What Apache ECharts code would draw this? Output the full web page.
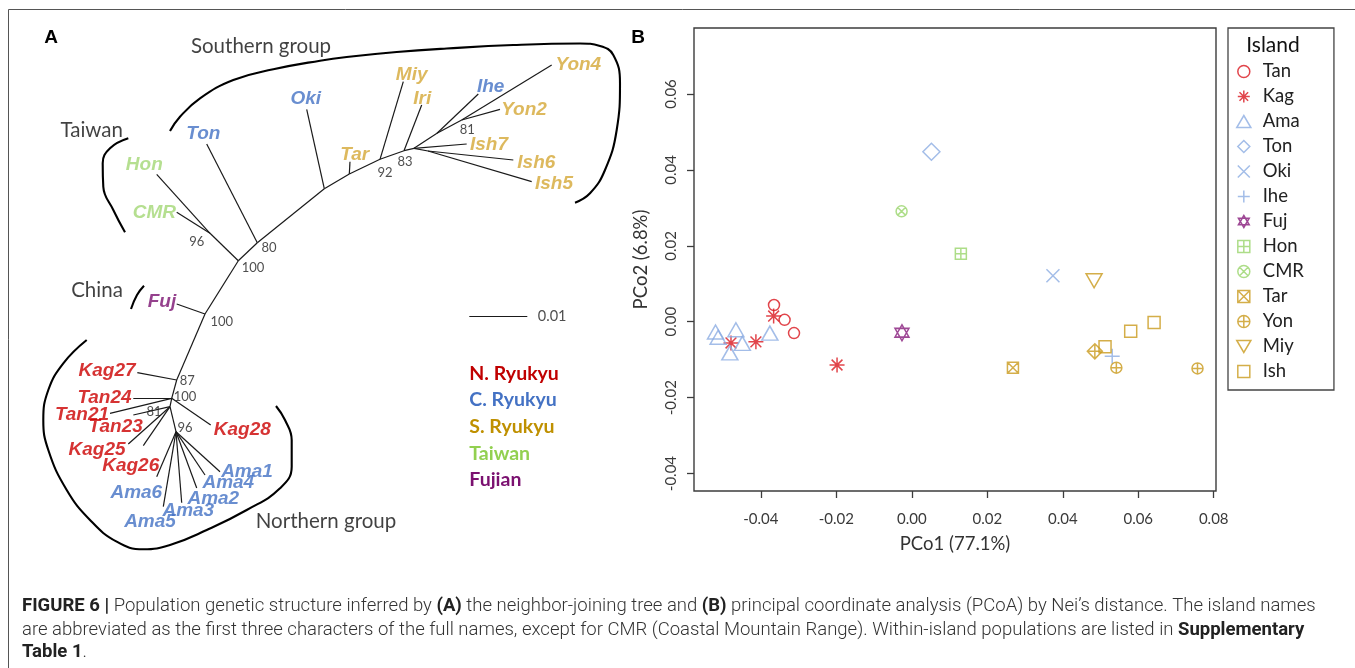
<!DOCTYPE html>
<html><head><meta charset="utf-8">
<script src="https://cdn.jsdelivr.net/npm/echarts@6/dist/echarts.min.js"></script>
<style>html,body{margin:0;padding:0;background:#fff}#c{width:1355px;height:668px}</style>
</head><body><div id="c"></div>
<script>
// ================= Panel B : PCoA values =================
const islands = ['Tan','Kag','Ama','Ton','Oki','Ihe','Fuj','Hon','CMR','Tar','Yon','Miy','Ish'];
const tanPts = [[-0.0365,0.0044],[-0.0337,0.0005],[-0.0312,-0.0030]];
const kagPts = [[-0.0366,0.0015],[-0.0413,-0.0053],[-0.0479,-0.0056],[-0.0198,-0.0114]];
const amaPts = [[-0.0520,-0.0027],[-0.0513,-0.0041],[-0.0466,-0.0021],[-0.0482,-0.0082],[-0.0449,-0.0057],[-0.0376,-0.0030]];
const tonPts = [[0.0052,0.0448]];
const okiPts = [[0.0374,0.0121]];
const ihePts = [[0.0531,-0.0091]];
const fujPts = [[-0.0026,-0.0029]];
const honPts = [[0.0130,0.0179]];
const cmrPts = [[-0.0027,0.0291]];
const tarPts = [[0.0268,-0.0121]];
const yonPts = [[0.0542,-0.0121],[0.0757,-0.0123]];
const yonDiamondPts = [[0.0485,-0.0078]];
const miyPts = [[0.0483,0.0108]];
const ishPts = [[0.0512,-0.0066],[0.0580,-0.0025],[0.0642,-0.0002]];
const xTicks = [-0.04,-0.02,0.00,0.02,0.04,0.06,0.08];
const yTicks = [-0.04,-0.02,0.00,0.02,0.04,0.06];
const xLabel = 'PCo1 (77.1%)';
const yLabel = 'PCo2 (6.8%)';

// ================= Panel A : NJ tree layout (layout units) =================
const treeNodes = {
  Hon:[156.7,174.3], CMR:[176.7,212.3], nHC:[210,233.3], nA:[238.3,260.7], n80:[257.3,242.7], Ton:[206.7,144],
  nOki:[324.3,188.7], Oki:[306.7,109.3], nTar:[349.3,174], Tar:[350,161.7], nMiy:[380,159.3], Miy:[403.3,81.7],
  nIri:[404,150.7], Iri:[421.7,105], nStar:[414,148.3], Ish7:[466.7,144], nIsh56:[428,151], Ish6:[513.3,160], Ish5:[531.7,181.7],
  nIhe:[437,133.3], Ihe:[478.3,94], nYon:[461.7,120], Yon4:[551.7,65], Yon2:[500,109.3],
  nFuj:[205,314], Fuj:[176.7,304], n87:[176.7,380], Kag27:[137.3,372.7], n100b:[171.7,398.3], Tan24:[133.3,398.3], Tan21:[110,413.3],
  n81:[170,406.7], Tan23:[133.3,415], Kag25:[128.3,444], Kag26:[143.3,445.7], Kag28:[210.7,425],
  n96:[176,431.7], Ama1:[220,471.7], Ama4:[205,475], Ama2:[196.7,488], Ama3:[181.7,502.7], Ama5:[163.3,506.7], Ama6:[156.7,476.7]
};
const treeEdges = [['Hon','nHC'],['CMR','nHC'],['nHC','nA'],['nA','n80'],['Ton','n80'],['n80','nOki'],['Oki','nOki'],
  ['nOki','nTar'],['Tar','nTar'],['nTar','nMiy'],['Miy','nMiy'],['nMiy','nIri'],['Iri','nIri'],['nIri','nStar'],
  ['nStar','Ish7'],['nStar','nIsh56'],['nIsh56','Ish6'],['nIsh56','Ish5'],['nStar','nIhe'],['nIhe','Ihe'],['nIhe','nYon'],
  ['nYon','Yon4'],['nYon','Yon2'],['nA','nFuj'],['Fuj','nFuj'],['nFuj','n87'],['Kag27','n87'],['n87','n100b'],
  ['Tan24','n100b'],['Tan21','n100b'],['n100b','n81'],['Tan23','n81'],['Kag25','n81'],['Kag26','n81'],['n100b','Kag28'],
  ['n81','n96'],['n96','Ama1'],['n96','Ama4'],['n96','Ama2'],['n96','Ama3'],['n96','Ama5'],['n96','Ama6']];
const tipLabels = [
  ['Hon',144.3,165,'T'],['CMR',154.3,212.3,'T'],['Ton',203.3,133.3,'C'],['Oki',305.7,98.3,'C'],['Tar',354.7,154.3,'S'],
  ['Miy',411.7,75,'S'],['Iri',422.3,98.3,'S'],['Ihe',490.7,86.7,'C'],['Yon4',578.3,65,'S'],['Yon2',524,109.3,'S'],
  ['Ish7',489,145,'S'],['Ish6',536.3,162.7,'S'],['Ish5',554,183.3,'S'],['Fuj',162,301.7,'F'],
  ['Kag27',107,371,'N'],['Tan24',104.5,397.3,'N'],['Tan21',82,414.3,'N'],['Tan23',115.7,426.7,'N'],['Kag25',97,450,'N'],
  ['Kag26',130.7,465.7,'N'],['Kag28',242.3,430,'N'],['Ama1',247,471.7,'C'],['Ama4',228.3,482.7,'C'],['Ama2',213.3,499,'C'],
  ['Ama3',188.3,510.7,'C'],['Ama6',136.3,492.7,'C'],['Ama5',150,521.7,'C']];
const bootstrap = [['96',196.7,241.7],['100',253,267.7],['80',269,248.3],['92',385,173.3],['83',405,161.7],['81',467.3,130],
  ['100',221.7,321.7],['87',187.3,381],['100',185,396.7],['81',154,411.7],['96',185,428.3]];
const groupLabels = [['Southern group',261,46],['Taiwan',91.7,130],['China',97,290],['Northern group',326,521.7]];
const bracketTaiwan = [[128.3,138.3],[110,148.3],[102.7,163.3],[103.3,186.7],[113.3,210],[125,232.3]];
const bracketChina = [[144,285.7],[137,295],[131,309]];
const bracketSouth = [[170,131],[180,116.7],[200,98.3],[233.3,80],[273.3,69.3],[320,60.7],[346.7,57],[396.7,52],[446.7,48.5],
  [513.3,45],[580,43.5],[600,46],[613.3,55],[620,83.3],[616.7,130],[605,170],[590,193.3],[575,202.7]];
const bracketNorth = [[86.7,340],[63.3,363.3],[48.3,390],[43.3,420],[48.3,450],[66.7,490],[90,520],[116.7,541.7],[143.3,549.3],
  [170,545],[206.7,530],[246.7,510],[280,488.3],[291.7,466.7],[291.7,440],[285,420],[276,406]];
const scaleBar = {from:[469.3,316.7], to:[527.3,316.7], label:'0.01'};
const regionNames = [['N. Ryukyu','N'],['C. Ryukyu','C'],['S. Ryukyu','S'],['Taiwan','T'],['Fujian','F']];

// ================= Styles =================
const tipColor = {N:'#cc0000', C:'#4472c4', S:'#d4a836', T:'#a2d774', F:'#7b1170'};
const regColor = {N:'#c00000', C:'#4472c4', S:'#bf9000', T:'#92d050', F:'#7b1170'};
const RED='#d9161e', LBLUE='#8cade2', PURP='#861a7a', LGRN='#98d56a', GOLD='#c99a1c';
const SYM = {
  asterisk:'path://M0,-1L0,1M-1,0L1,0M-0.72,-0.72L0.72,0.72M-0.72,0.72L0.72,-0.72',
  cross:'path://M-1,-1L1,1M-1,1L1,-1',
  plus:'path://M0,-1L0,1M-1,0L1,0',
  david:'path://M0,-1L0.9,0.55L-0.9,0.55Z M0,1L0.9,-0.55L-0.9,-0.55Z',
  sqplus:'path://M-1,-1L1,-1L1,1L-1,1Z M0,-1L0,1 M-1,0L1,0',
  circx:'path://M1,0A1,1,0,1,1,-1,0A1,1,0,1,1,1,0Z M-0.7,-0.7L0.7,0.7 M-0.7,0.7L0.7,-0.7',
  sqx:'path://M-1,-1L1,-1L1,1L-1,1Z M-1,-1L1,1 M-1,1L1,-1',
  circplus:'path://M1,0A1,1,0,1,1,-1,0A1,1,0,1,1,1,0Z M0,-1L0,1 M-1,0L1,0',
  tridown:'path://M-1,-0.85L1,-0.85L0,0.85Z',
  tri:'path://M0,-0.85L1,0.85L-1,0.85Z',
  diaplus:'path://M0,-1L1,0L0,1L-1,0Z M0,-1L0,1 M-1,0L1,0',
  square:'path://M-1,-1L1,-1L1,1L-1,1Z',
  diamond:'path://M0,-1L1,0L0,1L-1,0Z',
  circle:'circle'
};
const islandData = {Tan:tanPts,Kag:kagPts,Ama:amaPts,Ton:tonPts,Oki:okiPts,Ihe:ihePts,Fuj:fujPts,Hon:honPts,CMR:cmrPts,Tar:tarPts,Yon:yonPts,Miy:miyPts,Ish:ishPts};
const islandStyle = {
  Tan:{s:'circle',z:11,c:RED}, Kag:{s:'asterisk',z:15,c:RED}, Ama:{s:'tri',z:[16,14],c:LBLUE}, Ton:{s:'diamond',z:17,c:LBLUE},
  Oki:{s:'cross',z:13,c:LBLUE}, Ihe:{s:'plus',z:15,c:LBLUE}, Fuj:{s:'david',z:[14,16],c:PURP}, Hon:{s:'sqplus',z:11,c:LGRN},
  CMR:{s:'circx',z:11,c:LGRN}, Tar:{s:'sqx',z:11,c:GOLD}, Yon:{s:'circplus',z:11,c:GOLD}, Miy:{s:'tridown',z:[16,14],c:GOLD},
  Ish:{s:'square',z:12,c:GOLD}
};

// ================= Build =================
const chart = echarts.init(document.getElementById('c'));
const LATO = 'Lato, "Open Sans", sans-serif';
const ARIAL = '"Liberation Sans", Arial, sans-serif';
const CAP = 'Roboto, "Liberation Sans", sans-serif';

function textW(t, font){ const c=document.createElement('canvas').getContext('2d'); c.font=font; return c.measureText(t).width; }
const cap2a = 'are abbreviated as the first three characters of the full names, except for CMR (Coastal Mountain Range). Within-island populations are listed in ';
const cap2b = 'Supplementary';
const wRef = textW(cap2a, '300 100px '+CAP) + textW(cap2b, 'bold 100px '+CAP);
const capSize = Math.max(12, Math.min(20, 100*1283/wRef));

const edgeData = treeEdges.map(e=>({coords:[treeNodes[e[0]], treeNodes[e[1]]]}));
edgeData.push({coords:[scaleBar.from, scaleBar.to]});

const series = [];
series.push({type:'lines', coordinateSystem:'cartesian2d', xAxisIndex:0, yAxisIndex:0, silent:true,
  lineStyle:{color:'#1a1a1a', width:1.2, opacity:1}, data:edgeData});
[bracketTaiwan, bracketChina, bracketSouth, bracketNorth].forEach(b=>{
  series.push({type:'line', xAxisIndex:0, yAxisIndex:0, data:b, smooth:0.45, showSymbol:false, silent:true,
    lineStyle:{color:'#000', width:2.1}});
});
Object.keys(tipColor).forEach(g=>{
  series.push({type:'scatter', xAxisIndex:0, yAxisIndex:0, silent:true, symbolSize:1, itemStyle:{color:'rgba(0,0,0,0)'},
    data: tipLabels.filter(t=>t[3]===g).map(t=>({name:t[0], value:[t[1],t[2]]})),
    label:{show:true, position:'inside', formatter:'{b}', color:tipColor[g], fontFamily:ARIAL, fontWeight:'bold', fontStyle:'italic', fontSize:19}});
});
series.push({type:'scatter', xAxisIndex:0, yAxisIndex:0, silent:true, symbolSize:1, itemStyle:{color:'rgba(0,0,0,0)'},
  data: bootstrap.map(t=>({name:t[0], value:[t[1],t[2]]})),
  label:{show:true, position:'inside', formatter:'{b}', color:'#222', fontFamily:LATO, fontSize:13}});
series.push({type:'scatter', xAxisIndex:0, yAxisIndex:0, silent:true, symbolSize:1, itemStyle:{color:'rgba(0,0,0,0)'},
  data: groupLabels.map(t=>({name:t[0], value:[t[1],t[2]]})),
  label:{show:true, position:'inside', formatter:'{b}', color:'#111', fontFamily:LATO, fontSize:20.5}});
series.push({type:'scatter', xAxisIndex:0, yAxisIndex:0, silent:true, symbolSize:1, itemStyle:{color:'rgba(0,0,0,0)'},
  data:[{name:scaleBar.label, value:scaleBar.to}],
  label:{show:true, position:'right', distance:10, formatter:'{b}', color:'#222', fontFamily:LATO, fontSize:14.5}});

islands.forEach(k=>{
  const st = islandStyle[k];
  const data = islandData[k].map(p=>({value:p}));
  if(k==='Yon') yonDiamondPts.forEach(p=>data.push({value:p, symbol:SYM.diaplus, symbolSize:15}));
  series.push({type:'scatter', name:k, xAxisIndex:1, yAxisIndex:1, silent:true, symbol:SYM[st.s], symbolSize:st.z,
    itemStyle:{color:'rgba(0,0,0,0)', borderColor:st.c, borderWidth:1.5}, data:data});
});

const graphic = [
  {type:'rect', shape:{x:8.5, y:9.5, width:1400, height:700}, style:{fill:'none', stroke:'#555', lineWidth:1}, silent:true},
  {type:'text', x:51, y:38, style:{text:'A', font:'bold 19px '+ARIAL, fill:'#000', align:'center', verticalAlign:'middle'}},
  {type:'text', x:638, y:38, style:{text:'B', font:'bold 19px '+ARIAL, fill:'#000', align:'center', verticalAlign:'middle'}},
  {type:'text', x:1273, y:45, style:{text:'Island', font:'21px '+LATO, fill:'#111', align:'center', verticalAlign:'middle'}}
];
regionNames.forEach((r,i)=>{
  graphic.push({type:'text', x:469.3, y:373.3+i*26.7, style:{text:r[0], font:'bold 19.5px '+LATO, fill:regColor[r[1]], align:'left', verticalAlign:'middle'}});
});
const capRich = {b:{fontWeight:'bold', fontSize:capSize, fontFamily:CAP, fill:'#222', fontStyle:'normal'}};
const capLines = [
  '{b|FIGURE 6 |} Population genetic structure inferred by {b|(A)} the neighbor-joining tree and {b|(B)} principal coordinate analysis (PCoA) by Nei\u2019s distance. The island names',
  cap2a + '{b|' + cap2b + '}',
  '{b|Table 1}.'
];
[606, 630, 652].forEach((y,i)=>{
  graphic.push({type:'text', x:22, y:y, style:{text:capLines[i], rich:capRich, fontSize:capSize, fontFamily:CAP, fontWeight:300, fill:'#333', align:'left', verticalAlign:'middle'}});
});

const legendData = islands.map(k=>({name:k, icon:SYM[islandStyle[k].s],
  itemStyle:{color:'rgba(0,0,0,0)', borderColor:islandStyle[k].c, borderWidth:1.5}}));

chart.setOption({
  animation:false,
  backgroundColor:'#fff',
  grid:[
    {left:0, top:0, width:640, height:580, show:false},
    {left:694, top:28, width:522, height:463, show:true, borderColor:'#3c3c3c', borderWidth:1.4, backgroundColor:'rgba(0,0,0,0)'}
  ],
  xAxis:[
    {gridIndex:0, type:'value', min:0, max:640, show:false},
    {gridIndex:1, type:'value', min:-0.0577, max:0.0806, splitLine:{show:false},
     axisLine:{show:false, onZero:false},
     axisTick:{show:true, length:7, lineStyle:{color:'#3c3c3c', width:1.3}, customValues:xTicks},
     axisLabel:{customValues:xTicks, formatter:v=>v.toFixed(2), margin:21, fontSize:15, fontFamily:LATO, color:'#3a3a3a'},
     name:xLabel, nameLocation:'middle', nameGap:44, nameTextStyle:{fontSize:18.5, fontFamily:LATO, color:'#333'}}
  ],
  yAxis:[
    {gridIndex:0, type:'value', min:0, max:580, inverse:true, show:false},
    {gridIndex:1, type:'value', min:-0.0446, max:0.0774, splitLine:{show:false},
     axisLine:{show:false, onZero:false},
     axisTick:{show:true, length:7, lineStyle:{color:'#3c3c3c', width:1.3}, customValues:yTicks},
     axisLabel:{customValues:yTicks, formatter:v=>v.toFixed(2), rotate:90, margin:15, fontSize:15, fontFamily:LATO, color:'#3a3a3a'},
     name:yLabel, nameLocation:'middle', nameGap:43, nameTextStyle:{fontSize:18.5, fontFamily:LATO, color:'#333'}}
  ],
  legend:{orient:'vertical', left:1228, top:28, padding:[34,30,9,8], itemGap:6, itemWidth:28, itemHeight:12,
    borderColor:'#444', borderWidth:1.3, selectedMode:false, symbolKeepAspect:true,
    textStyle:{fontSize:18.5, fontFamily:LATO, color:'#222'}, data:legendData},
  graphic:graphic,
  series:series
});
</script></body></html>
